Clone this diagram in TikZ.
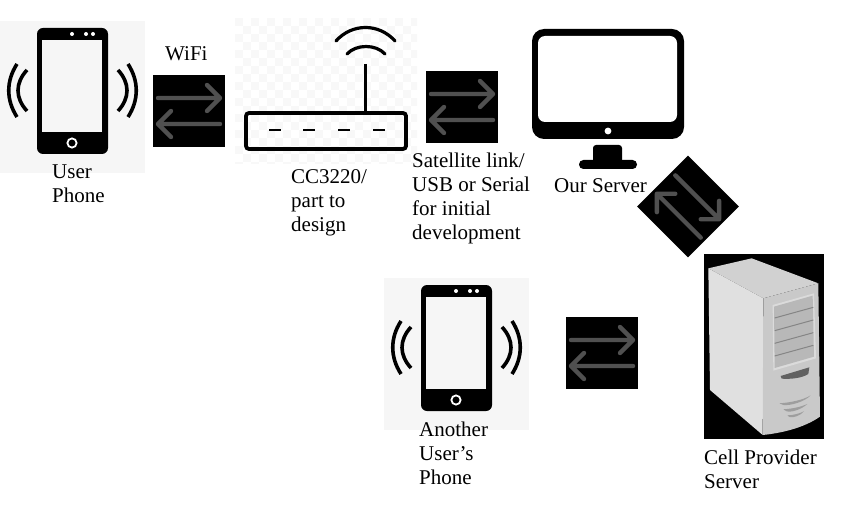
\documentclass[tikz,border=0pt]{standalone}
\usepackage{fontspec}
\setmainfont{Liberation Serif}
\definecolor{phonebg}{HTML}{F6F6F6}
\definecolor{arrowgray}{HTML}{505050}
\definecolor{checkgray}{HTML}{F8F8F8}
\begin{document}
\begin{tikzpicture}[x=1pt,y=-1pt]
    \tikzstyle{every node}=[font=\fontsize{21}{24}\selectfont,inner sep=0pt,anchor=north west,align=left]
    \tikzstyle{swapline}=[arrowgray,line width=4.4pt,line cap=round,line join=round]
    \tikzstyle{ringline}=[line width=3.6pt]
    \useasboundingbox (0,0) rectangle (845,505);
    % Arrows in a black square, drawn round (0,0)
    \def\swapbox{
        \fill[black] (-36,-36) rectangle (36,36);
        \draw[swapline] (-31,-13) -- (31,-13) (18,-26) -- (31,-13) -- (18,0);
        \draw[swapline] (31,13) -- (-31,13) (-18,0) -- (-31,13) -- (-18,26);
    }
    % Phone on its gray card, with (0,0) at the card's top left corner
    \def\phone{
        \fill[phonebg] (0,0) rectangle (145,152);
        \fill[black,rounded corners=6pt] (37,7) rectangle (108,133);
        \fill[phonebg] (42,19) rectangle (102,111);
        \fill[white] (72,13) circle (2) (86,13) circle (2) (93,13) circle (2);
        \draw[white,line width=1.8pt] (72,122) circle (4.6);
        \draw[ringline] (27,49) .. controls (15,62) and (15,77) .. (27,90);
        \draw[ringline] (17,43) .. controls (6,60) and (6,79) .. (17,96);
        \draw[ringline] (118,49) .. controls (130,62) and (130,77) .. (118,90);
        \draw[ringline] (128,43) .. controls (139,60) and (139,79) .. (128,96);
    }
    % Router on its checked ground
    \begin{scope}
        \clip (235,18) rectangle (417,164);
        \foreach \i in {0,...,22} {
            \foreach \j in {0,...,18} {
                \pgfmathparse{int(mod(\i+\j,2))}
                \ifnum\pgfmathresult=0
                    \fill[checkgray] (235+8*\i,18+8*\j) rectangle +(8,8);
                \fi
            }
        }
    \end{scope}
    \draw[line width=3.8pt,rounded corners=3pt] (246,113) rectangle (406,149);
    \foreach \x in {269,303,338,373} {
        \draw[line width=2.8pt] (\x,130) -- +(12,0);
    }
    \draw[line width=3pt] (365,64) -- (365,112);
    \draw[line width=3.2pt,line cap=round] (336,41) .. controls (352,23) and (379,23) .. (395,41);
    \draw[line width=3.2pt,line cap=round] (347,54) .. controls (356,44) and (376,44) .. (385,54);
    % Monitor
    \fill[black,rounded corners=12pt] (532,29) rectangle (684,139);
    \fill[white,rounded corners=7pt] (538,36) rectangle (677,122);
    \fill[white] (608,131) circle (3.4);
    \fill[black,rounded corners=3pt] (593,145) rectangle (622,166);
    \fill[black,rounded corners=4.4pt] (579,160) rectangle (637,169);
    % Tower
    \fill[black] (704,254) rectangle (824,439);
    \begin{scope}[shift={(690,250)},x=0.3333pt,y=-0.3333pt]
        \fill[black!18] (55,55) -- (185,25) -- (385,100) -- (220,145) -- cycle;
        \fill[black!12] (55,55) -- (220,145) -- (218,555) -- (60,420) -- cycle;
        \fill[black!21] (220,145) -- (385,100) -- (390,500) .. controls (340,535) and (270,550) .. (218,555) -- cycle;
        \fill[black!14] (248,165) -- (372,130) -- (378,325) -- (250,362) -- cycle;
        \fill[black!28] (252,170) -- (368,137) -- (372,320) -- (254,354) -- cycle;
        \foreach \d in {0,1,2,3} {
            \draw[black!48,line width=1pt] (254,204+38*\d) -- (370,172+38*\d);
        }
        \fill[black!62] (272,378) -- (358,352) -- (355,372) .. controls (335,385) and (300,388) .. (275,386) -- cycle;
        \fill[black!38] (268,460) .. controls (300,458) and (340,450) .. (362,436) .. controls (345,455) and (300,468) .. (280,465) -- cycle;
        \fill[black!38] (280,478) .. controls (310,476) and (335,470) .. (352,462) .. controls (335,478) and (305,488) .. (290,484) -- cycle;
        \fill[black!38] (292,496) .. controls (310,496) and (330,490) .. (342,484) .. controls (330,498) and (310,504) .. (298,501) -- cycle;
    \end{scope}
    % The four links
    \begin{scope}[shift={(189,111)}]\swapbox\end{scope}
    \begin{scope}[shift={(462,107)}]\swapbox\end{scope}
    \begin{scope}[shift={(602,353)}]\swapbox\end{scope}
    \begin{scope}[shift={(688,206.5)},rotate=-45]\swapbox\end{scope}
    % Phones
    \begin{scope}[shift={(0,21)}]\phone\end{scope}
    \begin{scope}[shift={(384,278)}]\phone\end{scope}
    % Labels
    \node (wifilabel) at (165,46) {WiFi};
    \node (userlabel) at (52,165) {User\\Phone};
    \node (cclabel) at (291,169) {CC3220/\\part to\\design};
    \node (linklabel) at (412,153) {Satellite link/\\USB or Serial\\for initial\\development};
    \node (serverlabel) at (554,178) {Our Server};
    \node (anotherlabel) at (419,422) {Another\\User{\char"27}s\\Phone};
    \node (celllabel) at (704,450) {Cell Provider\\Server};
\end{tikzpicture}
\end{document}
